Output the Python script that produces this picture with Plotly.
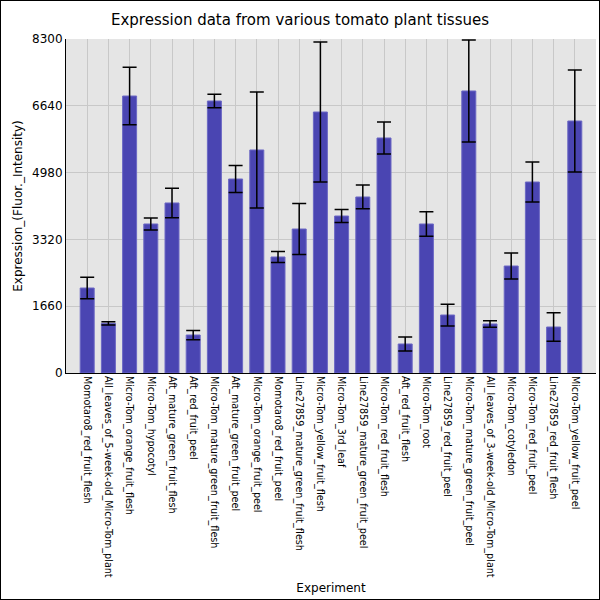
import plotly.graph_objects as go

experiments = [
    "Momotaro8_red_fruit_flesh",
    "All_leaves_of_5-week-old_Micro-Tom_plant",
    "Micro-Tom_orange_fruit_flesh",
    "Micro-Tom_hypocotyl",
    "Aft_mature_green_fruit_flesh",
    "Aft_red_fruit_peel",
    "Micro-Tom_mature_green_fruit_flesh",
    "Aft_mature_green_fruit_peel",
    "Micro-Tom_orange_fruit_peel",
    "Momotaro8_red_fruit_peel",
    "Line27859_mature_green_fruit_flesh",
    "Micro-Tom_yellow_fruit_flesh",
    "Micro-Tom_3rd_leaf",
    "Line27859_mature_green_fruit_peel",
    "Micro-Tom_red_fruit_flesh",
    "Aft_red_fruit_flesh",
    "Micro-Tom_root",
    "Line27859_red_fruit_peel",
    "Micro-Tom_mature_green_fruit_peel",
    "All_leaves_of_3-week-old_Micro-Tom_plant",
    "Micro-Tom_cotyledon",
    "Micro-Tom_red_fruit_peel",
    "Line27859_red_fruit_flesh",
    "Micro-Tom_yellow_fruit_peel",
]

expression = [2112, 1235, 6883, 3703, 4225, 944, 6759, 4821, 5542, 2883, 3578, 6486,
              3901, 4374, 5840, 721, 3703, 1441, 7008, 1218, 2659, 4746, 1143, 6262]

std_err = [265, 40, 715, 150, 365, 115, 170, 335, 1440, 135, 635, 1740,
           160, 295, 400, 175, 307, 270, 1270, 83, 320, 495, 357, 1265]

y_ticks = [0, 1660, 3320, 4980, 6640, 8300]

fig = go.Figure()
fig.add_trace(go.Bar(
    x=experiments,
    y=expression,
    marker=dict(color="#4a45b2", line=dict(color="#6c68c4", width=1)),
    width=0.66,
    error_y=dict(type="data", array=std_err, visible=True,
                 color="black", thickness=1.5, width=7),
))

fig.update_layout(
    width=600, height=600,
    margin=dict(l=66, r=4, t=39, b=227),
    paper_bgcolor="white",
    plot_bgcolor="#e5e5e5",
    font=dict(family="DejaVu Sans", color="black"),
    title=dict(text="Expression data from various tomato plant tissues",
               x=0.5, xanchor="center", y=0.967, yanchor="middle",
               font=dict(size=15)),
    showlegend=False,
)
fig.update_xaxes(
    range=[-1, len(experiments)],
    tickangle=90, tickfont=dict(size=9.6),
    showgrid=True, gridcolor="#c8c8c8", gridwidth=1,
    showline=True, linecolor="black", linewidth=1,
    title=dict(text="Experiment", font=dict(size=12), standoff=6),
)
fig.update_yaxes(
    range=[0, 8300], tickvals=y_ticks, tickfont=dict(size=12),
    showgrid=True, gridcolor="#c8c8c8", gridwidth=1,
    showline=True, linecolor="black", linewidth=1,
    zeroline=False, ticks="",
    title=dict(text="Expression_(Fluor._Intensity)", font=dict(size=12), standoff=6),
)

# black frame round the whole picture
fig.add_shape(type="rect", xref="paper", yref="paper",
              x0=-66 / 530, x1=1 + 4 / 530, y0=-227 / 334, y1=1 + 39 / 334,
              line=dict(color="black", width=2), layer="above")

fig.write_html("out.html", config={"displayModeBar": False},
               post_script="document.body.style.margin='0';")
